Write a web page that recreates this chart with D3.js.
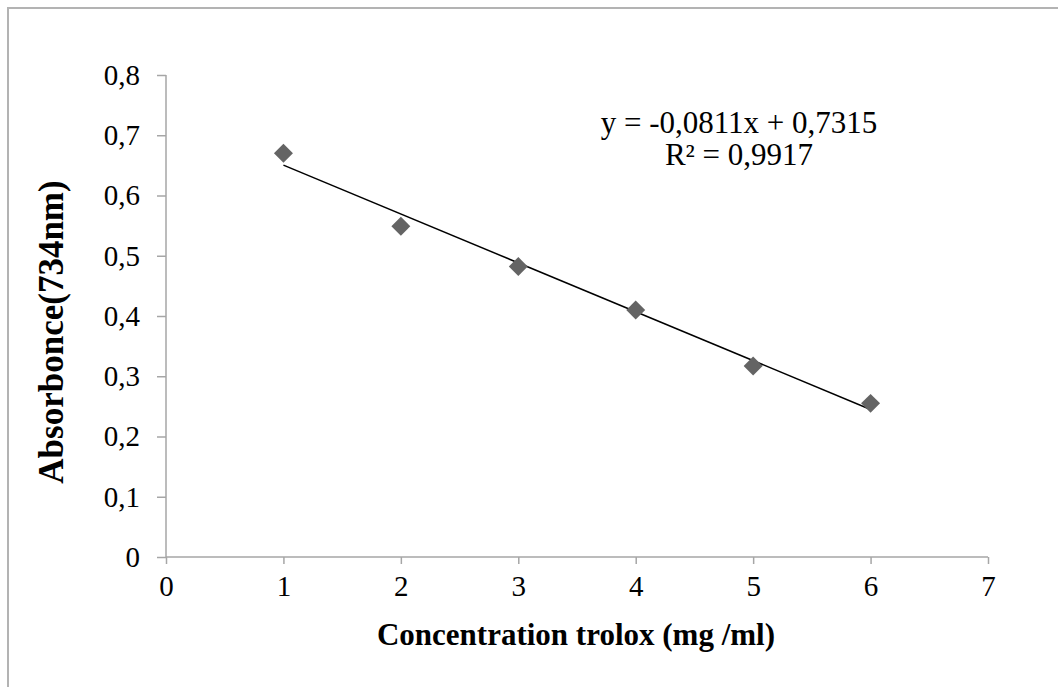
<!DOCTYPE html>
<html>
<head>
<meta charset="utf-8">
<script src="https://cdn.jsdelivr.net/npm/d3@7"></script>
<style>
  html, body { margin: 0; padding: 0; background: #fff; }
  svg { display: block; }
  text { font-family: "Liberation Serif", "Times New Roman", serif; fill: #000; }
</style>
</head>
<body>
<script>
// Trolox calibration: concentration (mg/ml) vs absorbance at 734 nm
const concentrations = [1, 2, 3, 4, 5, 6];
const absorbances = [0.670, 0.549, 0.482, 0.410, 0.317, 0.255];
const xTicks = [0, 1, 2, 3, 4, 5, 6, 7];
const yTicks = [0, 0.1, 0.2, 0.3, 0.4, 0.5, 0.6, 0.7, 0.8];
const fitSlope = -0.0811;
const fitIntercept = 0.7315;
const fitR2 = 0.9917;
const xTitle = "Concentration trolox (mg /ml)";
const yTitle = "Absorbonce(734nm)";

const W = 1058, H = 687;
const plot = { left: 166, right: 988, top: 75, bottom: 557 };

const svg = d3.select("body").append("svg")
  .attr("width", W).attr("height", H);

// chart frame (right and bottom edges fall outside the view)
svg.append("path")
  .attr("d", `M8,${H + 10} V8 H${W + 10}`)
  .attr("fill", "none").attr("stroke", "#b3b3b3").attr("stroke-width", 2);

const x = d3.scaleLinear().domain([0, 7]).range([plot.left, plot.right]);
const y = d3.scaleLinear().domain([0, 0.8]).range([plot.bottom, plot.top]);

const comma = v => d3.format("")(+v.toFixed(1)).replace(".", ",");

// y axis
const yAxis = svg.append("g")
  .attr("transform", `translate(${plot.left},0)`)
  .call(d3.axisLeft(y).tickValues(yTicks).tickSize(9).tickPadding(17)
    .tickFormat(comma));
// x axis
const xAxis = svg.append("g")
  .attr("transform", `translate(0,${plot.bottom})`)
  .call(d3.axisBottom(x).tickValues(xTicks).tickSize(7).tickPadding(11)
    .tickFormat(d3.format("d")));

[yAxis, xAxis].forEach(g => {
  g.select(".domain").attr("stroke", "#a6a6a6").attr("stroke-width", 1.5);
  g.selectAll(".tick line").attr("stroke", "#a6a6a6").attr("stroke-width", 1.5);
  g.selectAll(".tick text")
    .style("font-family", '"Liberation Serif", "Times New Roman", serif')
    .style("font-size", "29px").attr("fill", "#000");
});
xAxis.select(".domain").attr("d", `M${plot.left},0H${plot.right}`);
yAxis.select(".domain").attr("d", `M0,${plot.bottom}V${plot.top}`);

// linear trendline over the measured range
const xMin = d3.min(concentrations), xMax = d3.max(concentrations);
svg.append("line")
  .attr("x1", x(xMin)).attr("y1", y(fitSlope * xMin + fitIntercept))
  .attr("x2", x(xMax)).attr("y2", y(fitSlope * xMax + fitIntercept))
  .attr("stroke", "#000").attr("stroke-width", 1.5);

// diamond markers
const diamond = d3.symbol().type(d3.symbolSquare).size(180);
svg.append("g").selectAll("path")
  .data(concentrations.map((c, i) => [c, absorbances[i]]))
  .join("path")
  .attr("d", diamond)
  .attr("transform", d => `translate(${x(d[0])},${y(d[1])}) rotate(45)`)
  .attr("fill", "#646464");

// regression label
const eq = svg.append("text")
  .attr("text-anchor", "middle")
  .style("font-size", "31px");
const fmt4 = v => v.toFixed(4).replace(".", ",");
eq.append("tspan").attr("x", 739).attr("y", 133)
  .text(`y = ${fmt4(fitSlope)}x + ${fmt4(fitIntercept)}`);
eq.append("tspan").attr("x", 739).attr("y", 165)
  .text(`R² = ${fmt4(fitR2)}`);

// axis titles
svg.append("text")
  .attr("x", (plot.left + plot.right) / 2 - 1).attr("y", 645)
  .attr("text-anchor", "middle")
  .style("font-size", "31px").style("font-weight", "bold")
  .text(xTitle);

svg.append("text")
  .attr("transform", `translate(63,${(plot.top + plot.bottom) / 2 + 16}) rotate(-90)`)
  .attr("text-anchor", "middle")
  .style("font-size", "35px").style("font-weight", "bold")
  .text(yTitle);
</script>
</body>
</html>
